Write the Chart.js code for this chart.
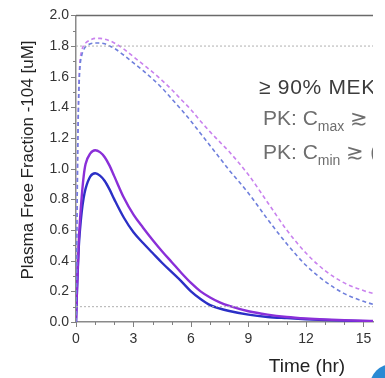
<!DOCTYPE html>
<html>
<head>
<meta charset="utf-8">
<script src="https://cdn.jsdelivr.net/npm/chart.js@4/dist/chart.umd.min.js"></script>
<style>
  html, body { margin: 0; padding: 0; background: #fff; }
  #wrap { width: 385px; height: 378px; }
</style>
</head>
<body>
<div id="wrap"><canvas id="pkChart" width="385" height="378"></canvas></div>
<script>
// time points (hr)
var timeHr = [0, 0.05, 0.1, 0.15, 0.2, 0.3, 0.4, 0.5, 0.75, 1, 1.25, 1.5, 1.75, 2, 2.5, 3, 3.5, 4, 4.5, 5, 5.5, 6, 6.5, 7, 7.5, 8, 9, 10, 11, 12, 13, 14, 15, 15.5];

// plasma free fraction (uM) per profile
var solidBlue = [0, 0.2, 0.36, 0.5, 0.59, 0.72, 0.81, 0.87, 0.95, 0.97, 0.955, 0.92, 0.865, 0.8, 0.68, 0.585, 0.515, 0.45, 0.385, 0.325, 0.265, 0.2, 0.15, 0.11, 0.088, 0.072, 0.048, 0.033, 0.025, 0.018, 0.013, 0.009, 0.006, 0.005];
var solidPurple = [0, 0.21, 0.38, 0.54, 0.65, 0.82, 0.95, 1.03, 1.1, 1.12, 1.108, 1.075, 1.02, 0.95, 0.81, 0.7, 0.615, 0.535, 0.46, 0.39, 0.32, 0.255, 0.2, 0.16, 0.128, 0.105, 0.07, 0.048, 0.033, 0.023, 0.016, 0.011, 0.008, 0.007];
var dashedPurple = [0, 0.7, 1.25, 1.55, 1.69, 1.77, 1.805, 1.82, 1.84, 1.85, 1.85, 1.845, 1.835, 1.82, 1.78, 1.73, 1.68, 1.63, 1.575, 1.515, 1.45, 1.385, 1.31, 1.24, 1.175, 1.11, 0.96, 0.78, 0.6, 0.45, 0.335, 0.255, 0.205, 0.186];
var dashedBlue = [0, 0.65, 1.2, 1.5, 1.65, 1.74, 1.775, 1.795, 1.815, 1.82, 1.82, 1.815, 1.8, 1.785, 1.74, 1.69, 1.64, 1.585, 1.525, 1.455, 1.385, 1.31, 1.23, 1.15, 1.07, 0.99, 0.84, 0.67, 0.51, 0.37, 0.265, 0.185, 0.135, 0.115];

// dotted reference levels
var refLevels = [1.8, 0.1];

// axis ticks
var xTicks = [0, 3, 6, 9, 12, 15];
var xMin = 0, xMax = 15.5;
var yMin = 0, yMax = 2.0;

var FONT = "'Liberation Sans', Arial, sans-serif";

function pts(ys) {
    return timeHr.map(function (t, i) { return { x: t, y: ys[i] }; });
}

function curve(ys, color, width, dash) {
    return {
        data: pts(ys),
        borderColor: color,
        borderWidth: width,
        borderDash: dash || [],
        pointRadius: 0,
        cubicInterpolationMode: 'monotone',
        fill: false
    };
}

var datasets = refLevels.map(function (v) {
    return {
        data: [{ x: xMin, y: v }, { x: xMax, y: v }],
        borderColor: '#b0b0b0',
        borderWidth: 1,
        borderDash: [2, 2],
        pointRadius: 0
    };
});
datasets.push(curve(dashedBlue, '#6f7fdc', 1.6, [4, 3]));
datasets.push(curve(dashedPurple, '#c982ee', 1.6, [4, 3]));
datasets.push(curve(solidPurple, '#8a2fd8', 2.4));
datasets.push(curve(solidBlue, '#2b2fc6', 2.4));

// minor/major tick marks, top frame, text labels
var decorations = {
    id: 'decorations',
    afterDraw: function (chart) {
        var ctx = chart.ctx, a = chart.chartArea;
        var x = chart.scales.x, y = chart.scales.y;
        ctx.save();
        ctx.strokeStyle = '#808080';
        ctx.lineWidth = 1;
        ctx.beginPath();
        for (var t = 0; t <= 15; t++) {
            var px = Math.round(x.getPixelForValue(t)) + 0.5;
            var len = t % 3 === 0 ? 5 : 3;
            ctx.moveTo(px, a.bottom);
            ctx.lineTo(px, a.bottom + len);
        }
        for (var i = 0; i <= 20; i++) {
            var py = Math.round(y.getPixelForValue(i / 10)) + 0.5;
            var l2 = i % 2 === 0 ? 5 : 3;
            ctx.moveTo(a.left - l2, py);
            ctx.lineTo(a.left, py);
        }
        ctx.stroke();

        // top frame line
        ctx.strokeStyle = '#6a6a6a';
        ctx.lineWidth = 1.5;
        ctx.beginPath();
        ctx.moveTo(a.left, a.top);
        ctx.lineTo(a.right, a.top);
        ctx.stroke();

        // axis titles
        ctx.fillStyle = '#222';
        ctx.font = '19px ' + FONT;
        ctx.textAlign = 'center';
        ctx.textBaseline = 'alphabetic';
        ctx.fillText('Time (hr)', 307, 372);

        ctx.save();
        ctx.translate(33, 160);
        ctx.rotate(-Math.PI / 2);
        ctx.font = '17px ' + FONT;
        ctx.fillText('Plasma Free Fraction -104 [uM]', 0, 0);
        ctx.restore();

        // annotation text, clipped at the plot edge
        ctx.beginPath();
        ctx.rect(a.left, 0, a.right - a.left, chart.height);
        ctx.clip();
        ctx.textAlign = 'left';
        ctx.fillStyle = '#3c3c3c';
        ctx.font = '21px ' + FONT;
        ctx.letterSpacing = '0.7px';
        ctx.fillText('\u2265 90% MEK', 259, 94);
        ctx.letterSpacing = '0px';

        function pkLine(sub, baseY) {
            var xx = 263;
            ctx.fillStyle = '#6e6e6e';
            ctx.font = '21px ' + FONT;
            ctx.fillText('PK: C', xx, baseY);
            xx += ctx.measureText('PK: C').width;
            ctx.font = '14px ' + FONT;
            ctx.fillText(sub, xx, baseY + 6);
            xx += ctx.measureText(sub).width + 6;
            ctx.font = '21px ' + FONT;
            ctx.fillText('\u2273 (', xx, baseY);
        }
        pkLine('max', 125);
        pkLine('min', 159);
        ctx.restore();

        // decorative blue shape in the corner
        ctx.save();
        ctx.fillStyle = '#2a8ad4';
        ctx.beginPath();
        ctx.arc(392, 386, 22, 0, Math.PI * 2);
        ctx.fill();
        ctx.restore();
    }
};

var pkChart = new Chart(document.getElementById('pkChart').getContext('2d'), {
    type: 'line',
    data: { datasets: datasets },
    options: {
        responsive: false,
        animation: false,
        layout: { padding: { top: 14, right: 12, left: 0, bottom: 0 } },
        plugins: {
            legend: { display: false },
            tooltip: { enabled: false }
        },
        scales: {
            x: {
                type: 'linear',
                min: xMin,
                max: xMax,
                afterFit: function (s) { s.height = 56; },
                afterBuildTicks: function (s) {
                    s.ticks = xTicks.map(function (v) { return { value: v }; });
                },
                grid: { display: false, drawTicks: false },
                border: { display: true, color: '#8a8a8a', width: 1.5 },
                ticks: {
                    autoSkip: false,
                    padding: 9,
                    maxRotation: 0,
                    color: '#333',
                    font: { size: 14, family: FONT }
                }
            },
            y: {
                min: yMin,
                max: yMax,
                afterFit: function (s) { s.width = 76; },
                grid: { display: false, drawTicks: false },
                border: { display: true, color: '#8a8a8a', width: 1.5 },
                ticks: {
                    stepSize: 0.2,
                    padding: 7,
                    color: '#333',
                    font: { size: 14, family: FONT },
                    callback: function (v) { return v.toFixed(1); }
                }
            }
        }
    },
    plugins: [decorations]
});
</script>
</body>
</html>
